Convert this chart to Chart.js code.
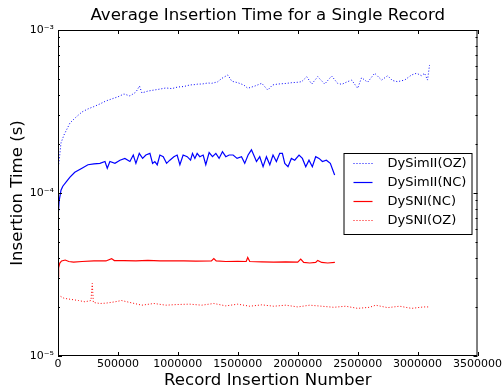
<!DOCTYPE html>
<html>
<head>
<meta charset="utf-8">
<script src="https://cdn.jsdelivr.net/npm/chart.js@4/dist/chart.umd.min.js"></script>
<style>
  html, body { margin: 0; padding: 0; background: #fff; }
</style>
</head>
<body>
<canvas id="chart" width="504" height="390"></canvas>
<script>
// values
const seriesLabels = ['DySimII(OZ)', 'DySimII(NC)', 'DySNI(NC)', 'DySNI(OZ)'];
const seriesColors = ['#0000ff', '#0000ff', '#ff0000', '#ff0000'];

const simOzX = [0, 10e3, 25e3, 50e3, 75e3, 100e3, 150e3, 200e3, 250e3, 300e3, 350e3, 400e3, 450e3, 500e3, 550e3, 600e3, 650e3,
  680e3, 700e3, 750e3, 800e3, 850e3, 900e3, 950e3, 1000e3, 1050e3, 1100e3, 1150e3, 1167e3, 1200e3, 1250e3, 1283e3, 1330e3,
  1367e3, 1417e3, 1450e3, 1500e3, 1550e3, 1583e3, 1642e3, 1700e3, 1750e3, 1790e3, 1833e3, 1900e3, 1950e3, 2000e3, 2033e3,
  2075e3, 2117e3, 2167e3, 2225e3, 2283e3, 2333e3, 2367e3, 2410e3, 2450e3, 2500e3, 2533e3, 2583e3, 2642e3, 2700e3, 2750e3,
  2790e3, 2833e3, 2892e3, 2950e3, 2992e3, 3033e3, 3058e3, 3083e3, 3100e3];
const simOzY = [1.38e-4, 1.59e-4, 2.03e-4, 2.27e-4, 2.47e-4, 2.69e-4, 2.92e-4, 3.14e-4, 3.28e-4, 3.39e-4, 3.52e-4, 3.67e-4, 3.78e-4, 3.89e-4, 4.05e-4, 3.94e-4, 4.16e-4,
  4.53e-4, 4.11e-4, 4.22e-4, 4.28e-4, 4.34e-4, 4.41e-4, 4.37e-4, 4.47e-4, 4.50e-4, 4.60e-4, 4.63e-4, 4.66e-4, 4.66e-4, 4.73e-4, 4.71e-4, 4.80e-4,
  5.05e-4, 5.30e-4, 4.85e-4, 4.75e-4, 4.60e-4, 4.39e-4, 4.53e-4, 4.71e-4, 4.28e-4, 4.60e-4, 4.66e-4, 4.70e-4, 4.75e-4, 4.78e-4, 4.82e-4,
  5.17e-4, 4.66e-4, 5.17e-4, 4.66e-4, 5.22e-4, 4.71e-4, 4.64e-4, 4.80e-4, 4.93e-4, 4.39e-4, 5.10e-4, 4.78e-4, 5.43e-4, 4.93e-4, 5.24e-4,
  4.90e-4, 4.82e-4, 4.93e-4, 5.30e-4, 5.43e-4, 5.24e-4, 5.43e-4, 4.93e-4, 6.10e-4];

const simNcX = [0, 10e3, 25e3, 40e3, 80e3, 100e3, 140e3, 200e3, 250e3, 300e3, 350e3, 392e3, 411e3, 433e3, 475e3, 517e3, 558e3,
  600e3, 628e3, 650e3, 678e3, 706e3, 733e3, 767e3, 789e3, 808e3, 828e3, 850e3, 878e3, 906e3, 933e3, 967e3, 994e3, 1017e3,
  1044e3, 1078e3, 1106e3, 1122e3, 1142e3, 1161e3, 1183e3, 1211e3, 1233e3, 1261e3, 1289e3, 1317e3, 1344e3, 1372e3, 1400e3,
  1428e3, 1461e3, 1494e3, 1531e3, 1558e3, 1586e3, 1614e3, 1633e3, 1656e3, 1683e3, 1711e3, 1739e3, 1767e3, 1794e3, 1822e3,
  1850e3, 1872e3, 1892e3, 1919e3, 1947e3, 1975e3, 2011e3, 2039e3, 2067e3, 2094e3, 2122e3, 2150e3, 2178e3, 2206e3, 2239e3,
  2272e3, 2308e3];
const simNcY = [7.0e-5, 9.0e-5, 1.04e-4, 1.10e-4, 1.20e-4, 1.25e-4, 1.34e-4, 1.42e-4, 1.49e-4, 1.51e-4, 1.52e-4, 1.56e-4, 1.42e-4, 1.56e-4, 1.52e-4, 1.59e-4, 1.63e-4,
  1.56e-4, 1.71e-4, 1.52e-4, 1.75e-4, 1.63e-4, 1.71e-4, 1.75e-4, 1.52e-4, 1.56e-4, 1.49e-4, 1.71e-4, 1.67e-4, 1.52e-4, 1.59e-4, 1.67e-4, 1.71e-4, 1.49e-4,
  1.71e-4, 1.67e-4, 1.59e-4, 1.75e-4, 1.63e-4, 1.75e-4, 1.67e-4, 1.71e-4, 1.49e-4, 1.77e-4, 1.67e-4, 1.75e-4, 1.63e-4, 1.79e-4, 1.67e-4,
  1.71e-4, 1.71e-4, 1.63e-4, 1.67e-4, 1.52e-4, 1.71e-4, 1.84e-4, 1.71e-4, 1.56e-4, 1.67e-4, 1.45e-4, 1.67e-4, 1.49e-4, 1.71e-4, 1.56e-4,
  1.75e-4, 1.75e-4, 1.52e-4, 1.45e-4, 1.63e-4, 1.59e-4, 1.71e-4, 1.63e-4, 1.45e-4, 1.59e-4, 1.45e-4, 1.67e-4, 1.63e-4, 1.56e-4, 1.59e-4,
  1.52e-4, 1.29e-4];

const sniNcX = [0, 5e3, 15e3, 30e3, 60e3, 90e3, 130e3, 200e3, 300e3, 400e3, 447e3, 470e3, 550e3, 650e3, 750e3, 850e3, 950e3,
  1050e3, 1150e3, 1280e3, 1300e3, 1320e3, 1400e3, 1500e3, 1570e3, 1583e3, 1600e3, 1700e3, 1800e3, 1900e3, 2000e3, 2025e3,
  2050e3, 2100e3, 2150e3, 2167e3, 2200e3, 2250e3, 2310e3];
const sniNcY = [3.07e-5, 3.47e-5, 3.72e-5, 3.83e-5, 3.88e-5, 3.80e-5, 3.77e-5, 3.80e-5, 3.83e-5, 3.83e-5, 3.96e-5, 3.85e-5, 3.85e-5, 3.83e-5, 3.86e-5, 3.83e-5, 3.84e-5,
  3.83e-5, 3.82e-5, 3.83e-5, 3.96e-5, 3.83e-5, 3.80e-5, 3.81e-5, 3.80e-5, 4.02e-5, 3.80e-5, 3.78e-5, 3.77e-5, 3.78e-5, 3.77e-5, 3.93e-5,
  3.75e-5, 3.72e-5, 3.75e-5, 3.86e-5, 3.75e-5, 3.72e-5, 3.75e-5];

const sniOzX = [0, 50e3, 100e3, 170e3, 225e3, 275e3, 286e3, 295e3, 350e3, 400e3, 475e3, 530e3, 600e3, 700e3, 800e3, 900e3,
  1000e3, 1100e3, 1200e3, 1300e3, 1400e3, 1500e3, 1600e3, 1700e3, 1800e3, 1900e3, 2000e3, 2100e3, 2200e3, 2300e3, 2400e3,
  2500e3, 2600e3, 2650e3, 2750e3, 2850e3, 2950e3, 3050e3, 3100e3];
const sniOzY = [2.37e-5, 2.26e-5, 2.23e-5, 2.19e-5, 2.15e-5, 2.19e-5, 2.79e-5, 2.13e-5, 2.10e-5, 2.11e-5, 2.15e-5, 2.19e-5, 2.13e-5, 2.05e-5, 2.10e-5, 2.05e-5,
  2.07e-5, 2.08e-5, 2.05e-5, 2.10e-5, 2.03e-5, 2.08e-5, 2.02e-5, 2.06e-5, 2.02e-5, 2.05e-5, 2.00e-5, 2.05e-5, 2.02e-5, 1.99e-5, 2.02e-5,
  1.96e-5, 1.99e-5, 2.05e-5, 1.98e-5, 2.02e-5, 1.96e-5, 2.00e-5, 2.00e-5];

const yTickValues = [1e-5, 1e-4, 1e-3];
const yTickLabels = ['10⁻⁵', '10⁻⁴', '10⁻³'];

const FONT = 'DejaVu Sans';

function toPoints(xs, ys) {
    return xs.map((x, i) => ({ x: x, y: ys[i] }));
}

// matplotlib style box, inward ticks, titles and legend
const mplDecor = {
    id: 'mplDecor',
    afterDatasetsDraw(chart) {
        const { ctx, chartArea: a, scales: { x, y } } = chart;
        ctx.save();
        ctx.strokeStyle = '#000';
        ctx.lineWidth = 1;
        ctx.strokeRect(a.left + 0.5, a.top + 0.5, a.right - a.left - 1, a.bottom - a.top - 1);

        ctx.beginPath();
        x.ticks.forEach(t => {
            const px = Math.round(x.getPixelForValue(t.value)) + 0.5;
            ctx.moveTo(px, a.bottom); ctx.lineTo(px, a.bottom - 4);
            ctx.moveTo(px, a.top); ctx.lineTo(px, a.top + 4);
        });
        const yTick = (v, len) => {
            const py = Math.round(y.getPixelForValue(v)) + 0.5;
            ctx.moveTo(a.left, py); ctx.lineTo(a.left + len, py);
            ctx.moveTo(a.right, py); ctx.lineTo(a.right - len, py);
        };
        yTickValues.forEach(v => yTick(v, 4));
        [1e-5, 1e-4].forEach(d => {
            for (let m = 2; m <= 9; m++) yTick(m * d, 2);
        });
        ctx.stroke();
        ctx.restore();
    },
    afterDraw(chart) {
        const { ctx, chartArea: a } = chart;
        ctx.save();
        ctx.fillStyle = '#000';
        ctx.textAlign = 'center';
        ctx.textBaseline = 'middle';
        ctx.font = `16.6px ${FONT}`;
        const cx = (a.left + a.right) / 2;
        ctx.fillText('Average Insertion Time for a Single Record', cx, 16);
        ctx.fillText('Record Insertion Number', cx, 381);
        ctx.save();
        ctx.translate(18, (a.top + a.bottom) / 2);
        ctx.rotate(-Math.PI / 2);
        ctx.fillText('Insertion Time (s)', 0, 0);
        ctx.restore();

        // legend box
        const bx = a.right - 134, by = a.top + 123, bw = 128, bh = 81;
        ctx.fillStyle = '#fff';
        ctx.fillRect(bx, by, bw, bh);
        ctx.strokeStyle = '#000';
        ctx.lineWidth = 1;
        ctx.strokeRect(bx + 0.5, by + 0.5, bw, bh);
        ctx.font = `13px ${FONT}`;
        ctx.textAlign = 'left';
        chart.data.datasets.forEach((ds, i) => {
            const ry = Math.round(by + 9.5 + i * 19.2) + 0.5;
            ctx.save();
            ctx.beginPath();
            ctx.strokeStyle = seriesColors[i];
            ctx.lineWidth = ds.borderWidth;
            ctx.setLineDash(ds.borderDash ? ds.borderDash : []);
            ctx.moveTo(bx + 10, ry);
            ctx.lineTo(bx + 29, ry);
            ctx.stroke();
            ctx.restore();
            ctx.fillStyle = '#000';
            ctx.fillText(ds.label, bx + 44, ry);
        });
        ctx.restore();
    }
};

const ctx = document.getElementById('chart').getContext('2d');
new Chart(ctx, {
    type: 'line',
    data: {
        datasets: [
            { label: seriesLabels[0], data: toPoints(simOzX, simOzY), borderColor: seriesColors[0], borderWidth: 1, borderDash: [1, 2] },
            { label: seriesLabels[1], data: toPoints(simNcX, simNcY), borderColor: seriesColors[1], borderWidth: 1.2 },
            { label: seriesLabels[2], data: toPoints(sniNcX, sniNcY), borderColor: seriesColors[2], borderWidth: 1.2 },
            { label: seriesLabels[3], data: toPoints(sniOzX, sniOzY), borderColor: seriesColors[3], borderWidth: 1, borderDash: [1, 2] }
        ]
    },
    options: {
        responsive: false,
        animation: false,
        layout: { padding: { top: 30, right: 26, left: 0, bottom: 0 } },
        elements: { point: { radius: 0 }, line: { tension: 0 } },
        plugins: { legend: { display: false }, title: { display: false }, tooltip: { enabled: false } },
        scales: {
            x: {
                type: 'linear', min: 0, max: 3500000,
                grid: { display: false, drawTicks: false },
                border: { display: false },
                ticks: { stepSize: 500000, color: '#000', font: { family: FONT, size: 11 }, padding: 2, maxRotation: 0,
                    callback: v => String(v) },
                afterFit: s => { s.height = 34; }
            },
            y: {
                type: 'logarithmic', min: 1e-5, max: 1e-3,
                grid: { display: false, drawTicks: false },
                border: { display: false },
                afterBuildTicks: s => { s.ticks = yTickValues.map(v => ({ value: v })); },
                ticks: { color: '#000', font: { family: FONT, size: 11 }, padding: 4,
                    callback: v => yTickLabels[yTickValues.indexOf(v)] },
                afterFit: s => { s.width = 58; }
            }
        }
    },
    plugins: [mplDecor]
});
</script>
</body>
</html>
